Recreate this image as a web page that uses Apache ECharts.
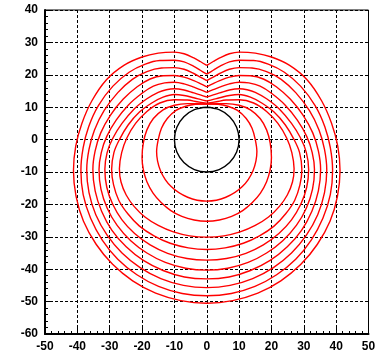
<!DOCTYPE html>
<html><head><meta charset="utf-8">
<script src="https://cdn.jsdelivr.net/npm/echarts@6/dist/echarts.min.js"></script>
<style>html,body{margin:0;padding:0;background:#fff}#c{width:380px;height:353px}</style>
</head><body><div id="c"></div>
<script>
// Tick values
var xTicks = [-50,-40,-30,-20,-10,0,10,20,30,40,50];
var yTicks = [-60,-50,-40,-30,-20,-10,0,10,20,30,40];

// Black circle (radius 10 about the origin), points read round it
var circlePts = [[0,10],[-3.83,9.24],[-7.07,7.07],[-9.24,3.83],[-10,0],[-9.24,-3.83],[-7.07,-7.07],[-3.83,-9.24],[0,-10],[3.83,-9.24],[7.07,-7.07],[9.24,-3.83],[10,0],[9.24,3.83],[7.07,7.07],[3.83,9.24],[0,10]];

// Red curves: left half of each, from the top (x=0) round the left side to the bottom (x=0); the picture is mirror-symmetric
var curve1 = [[0,22.9],[-2,24.1],[-4,25.2],[-7,26.5],[-10,27.0],[-15,26.7],[-20,25.5],[-25.5,23],[-31,18.5],[-35.5,12],[-38.6,5],[-40.5,-2],[-41.2,-9.5],[-40.4,-17.5],[-38.1,-25.2],[-34.2,-32.3],[-29.1,-38.5],[-22.9,-43.6],[-15.8,-47.4],[-8.0,-49.7],[0,-50.5]];
var curve2 = [[0,20.2],[-2,21.4],[-4,22.6],[-7,24.0],[-10,24.5],[-14.5,24.4],[-19,23.3],[-24,20.8],[-29,16.5],[-33.5,10.5],[-36.5,4],[-38.2,-2.5],[-38.9,-9.5],[-38.2,-17.0],[-35.9,-24.3],[-32.3,-31.0],[-27.5,-36.9],[-21.6,-41.7],[-14.9,-45.3],[-7.6,-47.5],[0,-48.2]];
var curve3 = [[0,18.2],[-2,19.3],[-4,20.4],[-7,21.7],[-10,22.2],[-14,22.1],[-18.5,21.0],[-23,18.6],[-27.5,14.5],[-31.7,9],[-34.7,3],[-36.4,-3],[-37.1,-9.3],[-36.4,-16.4],[-34.3,-23.2],[-30.8,-29.5],[-26.2,-35.0],[-20.6,-39.5],[-14.2,-42.9],[-7.2,-45.0],[0,-45.7]];
var curve4 = [[0,16.3],[-2,17.3],[-4,18.2],[-7,19.3],[-10,19.8],[-13.5,19.7],[-17.5,18.7],[-21.5,16.3],[-25.8,12.5],[-29.8,7.5],[-32.8,2],[-34.5,-3.5],[-35.2,-9.2],[-34.5,-15.8],[-32.5,-22.1],[-29.3,-28.0],[-24.9,-33.1],[-19.6,-37.3],[-13.5,-40.4],[-6.9,-42.4],[0,-43.0]];
var curve5 = [[0,14.6],[-2,15.4],[-4,16.2],[-7,17.2],[-10,17.7],[-13,17.5],[-16.5,16.5],[-20,14.3],[-24.2,10.7],[-28,6],[-30.9,1],[-32.6,-4],[-33.3,-9.2],[-32.7,-15.3],[-30.8,-21.1],[-27.7,-26.5],[-23.5,-31.2],[-18.5,-35.0],[-12.8,-37.9],[-6.5,-39.7],[0,-40.3]];
var curve6 = [[0,13.15],[-2,13.8],[-4,14.4],[-7,15.3],[-10,15.7],[-12.5,15.4],[-15,14.6],[-18.5,12.6],[-22.5,9.4],[-26.2,5],[-29.0,0.5],[-30.8,-4],[-31.5,-9.2],[-30.9,-14.7],[-29.1,-19.9],[-26.2,-24.8],[-22.3,-29.0],[-17.5,-32.5],[-12.1,-35.1],[-6.1,-36.7],[0,-37.2]];
var curve7 = [[0,11.9],[-2,12.4],[-4,12.9],[-7,13.6],[-10,13.9],[-13.5,13.1],[-17,11.3],[-20.8,8.5],[-24.3,4.5],[-27,0],[-28.7,-4],[-29.4,-9.2],[-28.8,-14.0],[-27.2,-18.7],[-24.4,-22.9],[-20.8,-26.7],[-16.3,-29.7],[-11.3,-32.0],[-5.7,-33.4],[0,-33.9]];
var curve8 = [[0,11.2],[-3,11.7],[-6,12.2],[-10,12.3],[-14.5,11.3],[-18.5,8.7],[-22,5],[-24.7,0.5],[-26.3,-4],[-27,-9],[-26.5,-13.1],[-24.9,-17.1],[-22.4,-20.7],[-19.1,-23.9],[-15.0,-26.5],[-10.3,-28.5],[-5.3,-29.7],[0,-30.1]];
var curve9 = [[0,11.0],[-3,11.1],[-6,11.1],[-10,10.6],[-13.5,9.2],[-16.5,6.5],[-18.5,3],[-19.6,-1],[-20,-5.5],[-19.6,-9.3],[-18.5,-13.0],[-16.6,-16.5],[-14.1,-19.4],[-11.1,-21.9],[-7.7,-23.7],[-3.9,-24.8],[0,-25.2]];
var curve10 = [[0,11.0],[-3.5,10.9],[-6.5,10.3],[-9.5,9],[-12.2,6.5],[-14,3.5],[-15,0],[-15.5,-3.7],[-14.3,-9.6],[-11.0,-14.5],[-5.9,-17.8],[0,-19.0]];

var redCurves = [curve1,curve2,curve3,curve4,curve5,curve6,curve7,curve8,curve9,curve10];

function fullCurve(left){
  var right = left.slice(0, left.length-1).reverse().map(function(p){return [-p[0], p[1]];});
  return left.concat(right);
}

var series = [];
redCurves.forEach(function(c){
  series.push({type:'line', data: fullCurve(c), smooth:0.35, symbol:'none', lineStyle:{color:'#ff0000', width:1.4}, z:3});
});
series.push({type:'line', data: circlePts, smooth:0.4, symbol:'none', lineStyle:{color:'#000', width:1.4}, z:4});

var FONT = 'Liberation Sans, Arial, sans-serif';
var chart = echarts.init(document.getElementById('c'), null, {renderer:'canvas'});
chart.setOption({
  animation:false,
  grid:{left:45, right:11.5, top:10, bottom:18, show:true, borderColor:'#000', borderWidth:1},
  xAxis:{type:'value', min:xTicks[0], max:xTicks[xTicks.length-1], interval:10,
    axisLine:{onZero:false, lineStyle:{color:'#000', width:2}},
    axisTick:{inside:true, length:6, lineStyle:{color:'#000', width:1}},
    minorTick:{show:true, splitNumber:5, length:3, lineStyle:{color:'#000', width:1}},
    splitLine:{show:true, lineStyle:{color:'#000', type:[3,2], width:1}},
    axisLabel:{color:'#000', fontWeight:'bold', fontSize:12, fontFamily:FONT, margin:7}},
  yAxis:{type:'value', min:yTicks[0], max:yTicks[yTicks.length-1], interval:10,
    axisLine:{onZero:false, lineStyle:{color:'#000', width:2}},
    axisTick:{inside:true, length:6, lineStyle:{color:'#000', width:1}},
    minorTick:{show:true, splitNumber:5, length:3, lineStyle:{color:'#000', width:1}},
    splitLine:{show:true, lineStyle:{color:'#000', type:[3,2], width:1}},
    axisLabel:{color:'#000', fontWeight:'bold', fontSize:12, fontFamily:FONT, margin:7}},
  series: series
});
</script></body></html>
